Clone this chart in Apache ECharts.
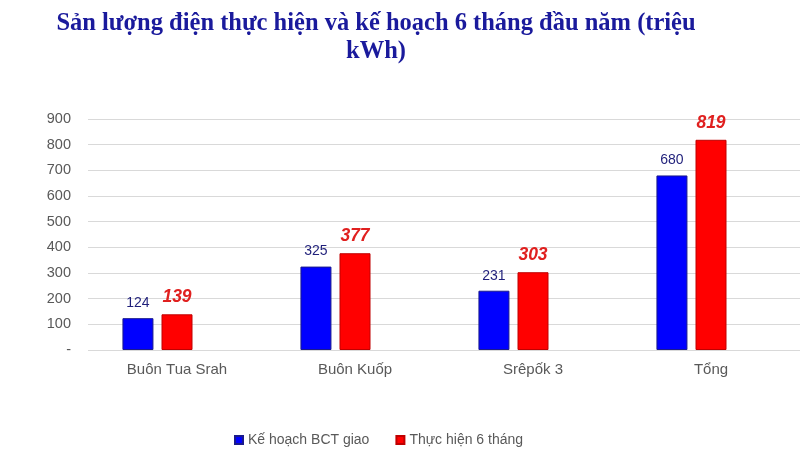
<!DOCTYPE html>
<html>
<head>
<meta charset="utf-8">
<script src="https://cdn.jsdelivr.net/npm/echarts@6/dist/echarts.min.js"></script>
<style>
html, body { margin: 0; padding: 0; background: #fff; }
#chart { width: 800px; height: 466px; }
</style>
</head>
<body>
<div id="chart"></div>
<script>
var categories = ['Buôn Tua Srah', 'Buôn Kuốp', 'Srêpốk 3', 'Tổng'];
var keHoach = [124, 325, 231, 680];
var thucHien = [139, 377, 303, 819];
var legendNames = ['Kế hoạch BCT giao', 'Thực hiện 6 tháng'];

var chart = echarts.init(document.getElementById('chart'));
var option = {
    backgroundColor: '#fff',
    title: {
        text: 'Sản lượng điện thực hiện và kế hoạch 6 tháng đầu năm (triệu\nkWh)',
        left: 371,
        textAlign: 'center',
        top: 5,
        textStyle: {
            fontFamily: 'Liberation Serif',
            fontWeight: 'bold',
            fontSize: 24.5,
            lineHeight: 28,
            color: '#1a1a9c'
        }
    },
    legend: {
        data: legendNames,
        bottom: 14,
        left: 229,
        itemWidth: 8,
        itemHeight: 8,
        itemGap: 26,
        icon: 'rect',
        textStyle: { fontFamily: 'Liberation Sans', fontSize: 14, color: '#595959' }
    },
    grid: { left: 88, right: 0, top: 119, bottom: 116 },
    xAxis: {
        type: 'category',
        data: categories,
        axisLine: { show: false },
        axisTick: { show: false },
        axisLabel: { fontFamily: 'Liberation Sans', fontSize: 15, color: '#595959', margin: 12 }
    },
    yAxis: {
        type: 'value',
        min: 0,
        max: 900,
        interval: 100,
        axisLine: { show: false },
        axisTick: { show: false },
        splitLine: { lineStyle: { color: '#d9d9d9', width: 1 } },
        axisLabel: {
            fontFamily: 'Liberation Sans', fontSize: 14.5, color: '#595959', margin: 17,
            formatter: function (v) { return v === 0 ? '-' : v; }
        }
    },
    series: [{
        name: legendNames[0],
        type: 'bar',
        data: keHoach,
        barWidth: 31,
        barGap: '26%',
        itemStyle: { color: '#0000ff', borderColor: '#1a1a8c', borderWidth: 1 },
        label: {
            show: true, position: 'top', distance: 8,
            fontFamily: 'Liberation Sans', fontSize: 14, color: '#1f1f7a'
        }
    }, {
        name: legendNames[1],
        type: 'bar',
        data: thucHien,
        barWidth: 31,
        barGap: '26%',
        itemStyle: { color: '#ff0000', borderColor: '#c00000', borderWidth: 1 },
        label: {
            show: true, position: 'top', distance: 8,
            fontFamily: 'Liberation Sans', fontSize: 17.5, fontWeight: 'bold', fontStyle: 'italic', color: '#e0201f'
        }
    }, {
        // hidden third series keeps the bars left of the category centre
        name: 'hidden',
        type: 'bar',
        data: [null, null, null, null],
        barWidth: 31,
        barGap: '26%',
        silent: true
    }]
};
chart.setOption(option);
</script>
</body>
</html>
